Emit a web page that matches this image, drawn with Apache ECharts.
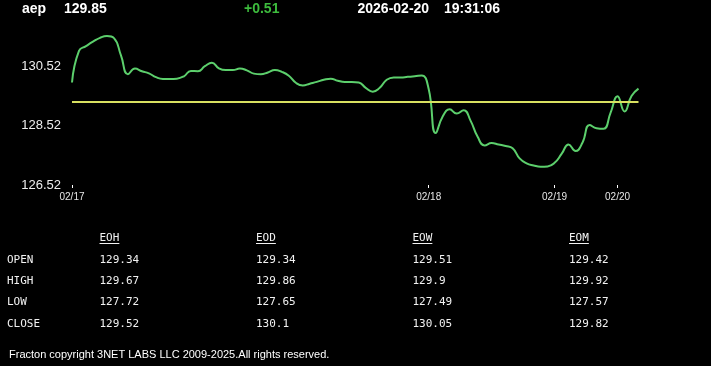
<!DOCTYPE html>
<html>
<head>
<meta charset="utf-8">
<script src="https://cdn.jsdelivr.net/npm/echarts@6/dist/echarts.min.js"></script>
<style>
html,body{margin:0;padding:0;background:#000;}
#chart{width:711px;height:366px;}
</style>
</head>
<body>
<div id="chart"></div>
<script>
// ---- data ----
const symbol = 'aep';
const lastPrice = '129.85';
const change = '+0.51';
const quoteDate = '2026-02-20';
const quoteTime = '19:31:06';
const openPrice = 129.34;

const prices = [
  129.99, 131.06, 131.22, 131.37, 131.50, 131.56, 131.49, 130.91, 130.27, 130.46,
  130.37, 130.30, 130.17, 130.11, 130.11, 130.12, 130.20, 130.38, 130.37, 130.54,
  130.66, 130.47, 130.41, 130.41, 130.46, 130.40, 130.29, 130.27, 130.33, 130.41,
  130.35, 130.22, 129.98, 129.89, 129.95, 130.01, 130.08, 130.12, 130.05, 130.01,
  130.01, 129.99, 129.81, 129.68, 129.81, 130.08, 130.16, 130.16, 130.18, 130.20,
  130.23, 129.77, 128.28, 128.84, 129.08, 128.94, 129.05, 128.69, 128.15, 127.86,
  127.94, 127.89, 127.84, 127.76, 127.42, 127.25, 127.18, 127.14, 127.15, 127.27,
  127.57, 127.89, 127.67, 127.96, 128.55, 128.44, 128.42, 128.96, 129.52, 129.01,
  129.53, 129.78
];
const tickLabels = ['02/17', '02/18', '02/19', '02/20'];
const tickIndex = [0, 51, 69, 78];
const yMin = 126.52;
const yMax = 131.8;
const yStep = 2;

const tableCols = ['EOH', 'EOD', 'EOW', 'EOM'];
const tableRows = ['OPEN', 'HIGH', 'LOW', 'CLOSE'];
const colEOH = ['129.34', '129.67', '127.72', '129.52'];
const colEOD = ['129.34', '129.86', '127.65', '130.1'];
const colEOW = ['129.51', '129.9', '127.49', '130.05'];
const colEOM = ['129.42', '129.92', '127.57', '129.82'];
const tableValues = [colEOH, colEOD, colEOW, colEOM];
const footer = 'Fracton copyright 3NET LABS LLC 2009-2025.All rights reserved.';

// ---- build ----
const categories = prices.map((_, i) => {
  const k = tickIndex.indexOf(i);
  return k >= 0 ? tickLabels[k] : '';
});
const isTick = (idx) => tickIndex.indexOf(idx) >= 0;

const headFont = 'bold 14px "Liberation Sans", Arial, sans-serif';
const monoFont = '11px "DejaVu Sans Mono", monospace';
const graphics = [];
function txt(x, y, text, font, fill, align) {
  graphics.push({
    type: 'text', left: null, x: x, y: y, silent: true,
    style: { text: text, font: font, fill: fill, textAlign: align || 'left', textVerticalAlign: 'middle' }
  });
}
txt(22, 9, symbol, headFont, '#ffffff');
txt(64, 9, lastPrice, headFont, '#ffffff');
txt(244, 9, change, headFont, '#3dbb3d');
txt(357.5, 9, quoteDate, headFont, '#ffffff');
txt(444, 9, quoteTime, headFont, '#ffffff');

const colX = [99.5, 256, 412.5, 569];
const rowY = [260, 281, 302.5, 324.5];
tableCols.forEach((c, j) => {
  txt(colX[j], 238, c, monoFont, '#f2f2f2');
  graphics.push({
    type: 'line', silent: true,
    shape: { x1: colX[j], y1: 243.5, x2: colX[j] + c.length * 6.62, y2: 243.5 },
    style: { stroke: '#f2f2f2', lineWidth: 1 }
  });
});
tableRows.forEach((r, i) => {
  txt(7, rowY[i], r, monoFont, '#f2f2f2');
  tableValues.forEach((col, j) => txt(colX[j], rowY[i], col[i], monoFont, '#f2f2f2'));
});
txt(9, 355, footer, '11px "Liberation Sans", Arial, sans-serif', '#ffffff');

const chart = echarts.init(document.getElementById('chart'), null, { renderer: 'canvas' });
chart.setOption({
  backgroundColor: '#000000',
  animation: false,
  grid: { left: 72, right: 72.5, top: 29, bottom: 181, containLabel: false },
  xAxis: {
    type: 'category',
    data: categories,
    boundaryGap: false,
    axisLine: { show: false },
    axisTick: { show: true, length: 3, interval: (idx) => isTick(idx), lineStyle: { color: '#ffffff', width: 1 } },
    axisLabel: { interval: (idx) => isTick(idx), color: '#e6e6e6', fontSize: 10, margin: 7,
      fontFamily: '"Liberation Sans", Arial, sans-serif' },
    splitLine: { show: false }
  },
  yAxis: {
    type: 'value',
    min: yMin, max: yMax, interval: yStep,
    axisLine: { show: false },
    axisTick: { show: false },
    splitLine: { show: false },
    axisLabel: { color: '#eeeeee', fontSize: 13, margin: 11, showMaxLabel: false,
      fontFamily: '"Liberation Sans", Arial, sans-serif',
      formatter: (v) => v.toFixed(2) }
  },
  series: [{
    type: 'line',
    data: prices,
    smooth: 0.5,
    showSymbol: false,
    lineStyle: { color: '#5ccf6c', width: 2 },
    markLine: {
      silent: true, symbol: 'none', animation: false,
      label: { show: false },
      lineStyle: { color: '#d8e060', width: 2, type: 'solid' },
      data: [{ yAxis: openPrice }]
    }
  }],
  graphic: graphics
});
</script>
</body>
</html>
